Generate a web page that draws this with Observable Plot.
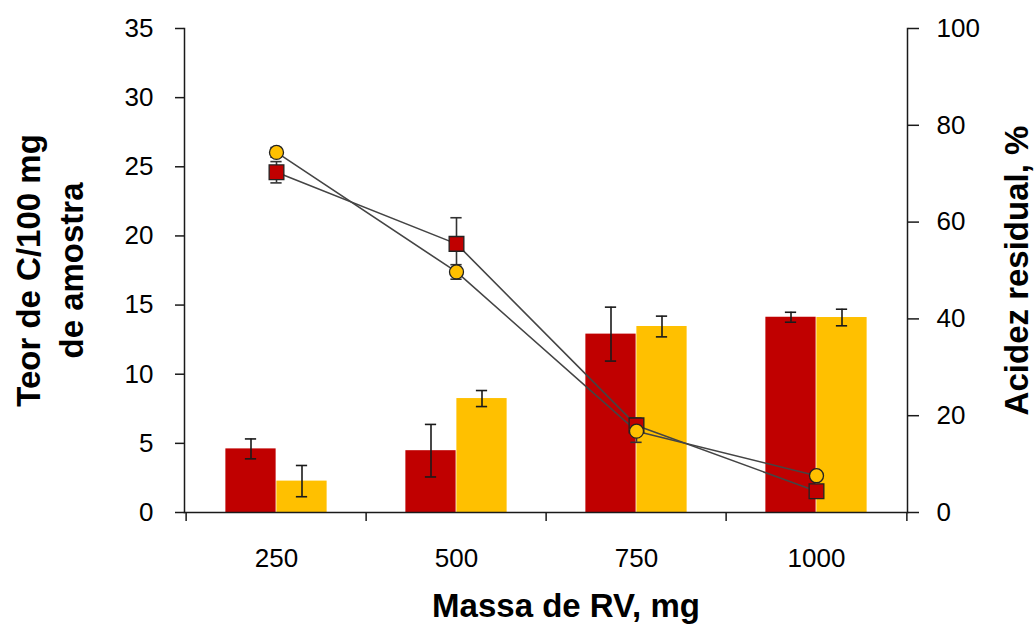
<!DOCTYPE html>
<html><head><meta charset="utf-8">
<script src="https://cdn.jsdelivr.net/npm/d3@7"></script>
<script src="https://cdn.jsdelivr.net/npm/@observablehq/plot@0.6"></script>
<style>body{margin:0;background:#fff;}</style>
</head><body><div id="chart"></div>
<script>
// Data (bars on the left axis, lines on the right axis)
const categories = ["250", "500", "750", "1000"];
const barRed = [4.6, 4.47, 12.9, 14.12];
const barRedErr = [0.72, 1.9, 1.95, 0.36];
const barYellow = [2.27, 8.24, 13.45, 14.1];
const barYellowErr = [1.13, 0.58, 0.75, 0.6];
const lineRed = [70.3, 55.5, 18.0, 4.4];
const lineRedErr = [2.2, 5.4, 1.5, 0.6];
const lineYellow = [74.4, 49.7, 16.8, 7.6];
const lineYellowErr = [1.0, 1.5, 2.3, 0.6];
const leftTicks = [0, 5, 10, 15, 20, 25, 30, 35];
const rightTicks = [0, 20, 40, 60, 80, 100];
const xTitle = "Massa de RV, mg";
const yTitle = "Teor de C/100 mg\nde amostra";
const y2Title = "Acidez residual, %";

const W = 1034, H = 630, mL = 184, mR = 127, mT = 28, mB = 118;
const bw = (W - mL - mR) / categories.length;
const barW = 51, capW = 12;
const RED = "#C00000", YEL = "#FFC000", INK = "#1a1a1a";
const yR = d3.scaleLinear([0, 100], [0, 35]);

const rows = categories.map((c, i) => ({
  c, br: barRed[i], bre: barRedErr[i], by: barYellow[i], bye: barYellowErr[i],
  lr: lineRed[i], lre: lineRedErr[i], ly: lineYellow[i], lye: lineYellowErr[i]
}));

function errBars(getY, getE, offset, stroke) {
  const c = bw / 2 + offset;
  return [
    Plot.ruleX(rows, {x: "c", y1: d => getY(d) - getE(d), y2: d => getY(d) + getE(d), dx: offset, stroke, strokeWidth: 1.6}),
    Plot.tickY(rows, {x: "c", y: d => getY(d) + getE(d), insetLeft: c - capW / 2, insetRight: bw - c - capW / 2, stroke, strokeWidth: 1.6}),
    Plot.tickY(rows, {x: "c", y: d => getY(d) - getE(d), insetLeft: c - capW / 2, insetRight: bw - c - capW / 2, stroke, strokeWidth: 1.6})
  ];
}

const chart = Plot.plot({
  width: W, height: H, marginLeft: mL, marginRight: mR, marginTop: mT, marginBottom: mB,
  style: {fontFamily: "'Liberation Sans', Arial, sans-serif", background: "#fff", color: "#000"},
  x: {domain: categories, padding: 0, axis: null},
  y: {domain: [0, 35], axis: null},
  marks: [
    Plot.barY(rows, {x: "c", y: "br", fill: RED, insetLeft: bw / 2 - barW, insetRight: bw / 2}),
    Plot.barY(rows, {x: "c", y: "by", fill: YEL, insetLeft: bw / 2, insetRight: bw / 2 - barW}),
    ...errBars(d => d.br, d => d.bre, -barW / 2, INK),
    ...errBars(d => d.by, d => d.bye, barW / 2, INK),
    Plot.line(rows, {x: "c", y: d => yR(d.lr), stroke: "#444", strokeWidth: 1.6}),
    Plot.line(rows, {x: "c", y: d => yR(d.ly), stroke: "#444", strokeWidth: 1.6}),
    ...errBars(d => yR(d.lr), d => yR(d.lre), 0, "#333"),
    ...errBars(d => yR(d.ly), d => yR(d.lye), 0, "#333"),
    Plot.dot(rows, {x: "c", y: d => yR(d.lr), symbol: "square", r: 8.3, fill: RED, stroke: "#222", strokeWidth: 1.3}),
    Plot.dot(rows, {x: "c", y: d => yR(d.ly), symbol: "circle", r: 7, fill: YEL, stroke: "#222", strokeWidth: 1.3}),
    Plot.frame({anchor: "left", stroke: INK, strokeWidth: 1.5}),
    Plot.frame({anchor: "right", stroke: INK, strokeWidth: 1.5}),
    Plot.frame({anchor: "bottom", stroke: INK, strokeWidth: 1.5}),
    Plot.axisY({anchor: "left", ticks: leftTicks, tickSize: 9, tickPadding: 22, fontSize: 26, label: null, stroke: INK, strokeWidth: 1.5}),
    Plot.axisY(rightTicks, {anchor: "right", y: yR, tickFormat: d => String(d), tickSize: 11, tickPadding: 18, fontSize: 26, label: null, stroke: INK, strokeWidth: 1.5}),
    Plot.axisX({ticks: categories, tickSize: 9, dx: -bw / 2, tickFormat: () => "", label: null, stroke: INK, strokeWidth: 1.5}),
    Plot.axisX({ticks: categories.slice(-1), tickSize: 9, dx: bw / 2, tickFormat: () => "", label: null, stroke: INK, strokeWidth: 1.5}),
    Plot.axisX({tickSize: 0, tickPadding: 36, fontSize: 26, label: null}),
    Plot.text([yTitle], {frameAnchor: "left", textAnchor: "middle", rotate: -90, dx: -137, fontSize: 33, fontWeight: "bold", lineHeight: 1.3}),
    Plot.text([y2Title], {frameAnchor: "right", textAnchor: "middle", rotate: -90, dx: 110, fontSize: 33, fontWeight: "bold"}),
    Plot.text([xTitle], {frameAnchor: "bottom", dy: 104, dx: 20, fontSize: 33, fontWeight: "bold"})
  ]
});
document.getElementById("chart").appendChild(chart);
</script>
</body></html>
